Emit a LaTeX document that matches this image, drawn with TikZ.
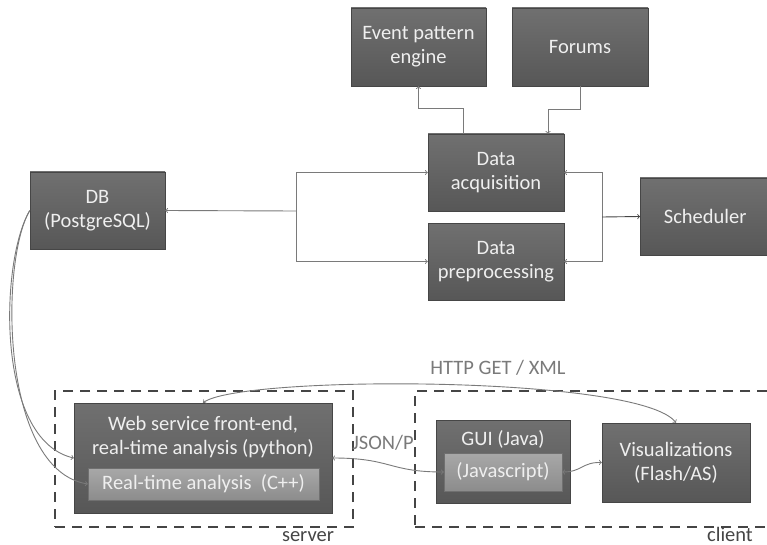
\documentclass[tikz,border=0pt]{standalone}
\usepackage{fontspec}
\setmainfont{Carlito}
\usetikzlibrary{positioning}
\definecolor{boxtop}{HTML}{707070}
\definecolor{boxbot}{HTML}{575757}
\definecolor{intop}{HTML}{A8A8A8}
\definecolor{inbot}{HTML}{8C8C8C}
\definecolor{boxtext}{HTML}{EFEFEF}
\definecolor{linegray}{HTML}{7A7A7A}
\definecolor{dashgray}{HTML}{454545}

\begin{document}
\begin{tikzpicture}[x=1pt,y=-1pt]

    \tikzset{
      box/.style={
        draw=boxbot!80!black,
        top color=boxtop,
        bottom color=boxbot,
        text=boxtext,
        align=center,
        inner sep=0pt,
        font=\fontsize{20.5}{24}\selectfont,
      },
      innerbox/.style={
        box,
        draw=inbot!80!black,
        top color=intop,
        bottom color=inbot,
      },
      group/.style={
        draw=dashgray,
        line width=2.4pt,
        dash pattern=on 10pt off 7pt,
        inner sep=0pt,
      },
      conn/.style={
        draw=linegray,
        line width=0.9pt,
        >=to,
      },
      lbl/.style={
        text=linegray,
        inner sep=0pt,
        font=\fontsize{20.5}{24}\selectfont,
      },
    }
    \clip (0,0) rectangle (767,545);

	% server / client groups
	\node[group,anchor=north west,minimum width=298,minimum height=136] (srv) at (54,390) {};
	\node[group,anchor=north west,minimum width=380,minimum height=136] (cli) at (414,390) {};
	\node[lbl,text=dashgray,anchor=base] (srvlbl) at (308,541) {server};
	\node[lbl,text=dashgray,anchor=base] (clilbl) at (730,541) {client};

	% upper boxes
	\node[box,minimum width=135,minimum height=78] (epe) at (418.5,47) {Event pattern\\engine};
	\node[box,minimum width=136,minimum height=78] (forums) at (580,47) {Forums};
	\node[box,minimum width=136,minimum height=77] (acq) at (496,172.5) {Data\\acquisition};
	\node[box,minimum width=136,minimum height=77] (prep) at (496,261.5) {Data\\preprocessing};
	\node[box,minimum width=140,minimum height=77,anchor=west] (sched) at (640,216.5) {\hspace*{-10pt}Scheduler};
	\node[box,minimum width=135,minimum height=77] (db) at (97.5,210.5) {DB\\(PostgreSQL)};

	% lower boxes
	\node[box,minimum width=258,minimum height=110] (web) at (203,458) {};
	\node[lbl,text=boxtext,align=center] (webtxt) at (203,437) {Web service front-end,\\real-time analysis (python)};
	\node[innerbox,minimum width=231,minimum height=32] (rt) at (203.5,484) {Real-time analysis~~(C++)};
	\node[box,minimum width=134,minimum height=83] (gui) at (503,461.5) {};
	\node[lbl,text=boxtext] (guitxt) at (503,439) {GUI (Java)};
	\node[innerbox,minimum width=118,minimum height=38] (js) at (503,472) {(Javascript)};
	\node[box,minimum width=148,minimum height=79] (vis) at (676,462.5) {Visualizations\\(Flash/AS)};

	% forks
	\coordinate (jl) at (296,211);
	\coordinate (jr) at (602,217);
	\draw[conn,->] (jl) -- (db.east);
	\draw[conn,->] (jl) |- (acq.west);
	\draw[conn,->] (jl) |- (prep.west);
	\draw[conn,->] (jr) |- (acq.east);
	\draw[conn,->] (jr) |- (prep.east);
	\draw[conn,->,draw=dashgray] (jr) -- (sched.west);
	\draw[conn,->] ([xshift=-33pt]acq.north) -- ++(0,-25) -| (epe.south);
	\draw[conn,->] (forums.south) -- ++(0,23) -| ([xshift=52pt]acq.north);

	% db to server
	\draw[conn,->] (db.west) .. controls (0,260) and (-5,440) .. (web.west);
	\draw[conn,->] (db.west) .. controls (0,260) and (0,470) .. (rt.west);

	% server / client links
	\draw[conn,<->] (web.north) .. controls (240,375) and (640,375) .. (vis.north);
	\node[lbl] (http) at (498,368) {HTTP GET / XML};
	\draw[conn,<->] (web.east) .. controls (392,458) and (388,472) .. (js.west);
	\node[lbl] (json) at (383,443) {JSON/P};
	\draw[conn,<->] (js.east) .. controls (582,472) and (582,462) .. (vis.west);

\end{tikzpicture}
\end{document}
